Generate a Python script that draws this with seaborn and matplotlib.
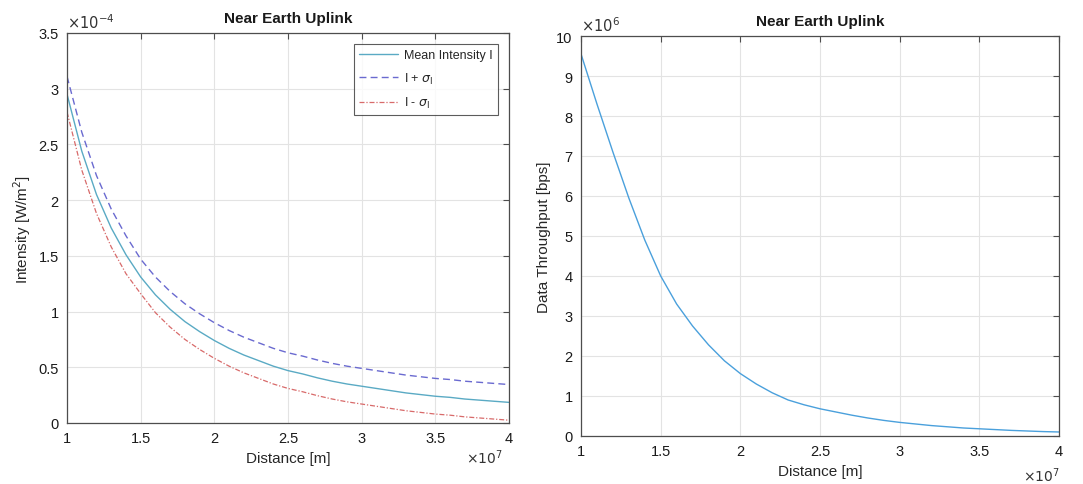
import numpy as np
import pandas as pd
import matplotlib
matplotlib.use("Agg")
import matplotlib.pyplot as plt
import seaborn as sns
from matplotlib.ticker import FuncFormatter, MultipleLocator

# distance samples [m], 1e7 .. 4e7
dist = [1.0e7, 1.1e7, 1.2e7, 1.3e7, 1.4e7, 1.5e7, 1.6e7, 1.7e7, 1.8e7, 1.9e7,
        2.0e7, 2.1e7, 2.2e7, 2.3e7, 2.4e7, 2.5e7, 2.6e7, 2.7e7, 2.8e7, 2.9e7,
        3.0e7, 3.1e7, 3.2e7, 3.3e7, 3.4e7, 3.5e7, 3.6e7, 3.7e7, 3.8e7, 3.9e7,
        4.0e7]
# intensity values, in units of 1e-4 W/m^2
mean_int = [2.95, 2.44, 2.05, 1.75, 1.51, 1.31, 1.15, 1.02, 0.91, 0.82,
            0.74, 0.67, 0.61, 0.56, 0.51, 0.47, 0.44, 0.405, 0.375, 0.35,
            0.33, 0.31, 0.29, 0.27, 0.255, 0.24, 0.23, 0.215, 0.205, 0.195,
            0.185]
upper_int = [3.11, 2.61, 2.22, 1.92, 1.68, 1.47, 1.31, 1.18, 1.07, 0.98,
             0.90, 0.83, 0.77, 0.72, 0.67, 0.63, 0.60, 0.565, 0.535, 0.51,
             0.49, 0.47, 0.45, 0.43, 0.415, 0.40, 0.39, 0.375, 0.365, 0.355,
             0.345]
lower_int = [2.79, 2.27, 1.88, 1.58, 1.34, 1.16, 0.99, 0.86, 0.75, 0.66,
             0.58, 0.51, 0.45, 0.40, 0.35, 0.31, 0.28, 0.245, 0.215, 0.19,
             0.17, 0.15, 0.13, 0.11, 0.095, 0.08, 0.07, 0.055, 0.045, 0.035,
             0.025]
# data throughput, in units of 1e6 bps
throughput = [9.55, 8.3, 7.1, 5.95, 4.9, 4.0, 3.3, 2.75, 2.28, 1.88,
              1.56, 1.3, 1.08, 0.9, 0.78, 0.68, 0.6, 0.52, 0.45, 0.39,
              0.34, 0.3, 0.26, 0.23, 0.2, 0.18, 0.16, 0.14, 0.125, 0.11,
              0.10]

sns.set_style("whitegrid")
plt.rcParams['font.family'] = ['Liberation Sans', 'DejaVu Sans']
plt.rcParams['mathtext.fontset'] = 'dejavusans'

df = pd.DataFrame({'dist': dist,
                   'mean': np.array(mean_int) * 1e-4,
                   'upper': np.array(upper_int) * 1e-4,
                   'lower': np.array(lower_int) * 1e-4,
                   'thr': np.array(throughput) * 1e6})

fig = plt.figure(figsize=(10.83, 4.85), dpi=100)
ax1 = fig.add_axes([0.0619, 0.1258, 0.4081, 0.8041])
ax2 = fig.add_axes([0.5365, 0.099, 0.4413, 0.8247])

edge = '#4d4d4d'
for ax in (ax1, ax2):
    ax.set_facecolor('white')
    ax.grid(True, color='#e3e3e3', linewidth=0.8)
    for s in ax.spines.values():
        s.set_color(edge)
        s.set_linewidth(0.9)
    ax.tick_params(direction='in', top=True, right=True, length=4,
                   color=edge, labelsize=10.5, labelcolor='#1a1a1a', pad=6,
                   width=0.8)
    ax.set_xlim(1e7, 4e7)
    ax.xaxis.set_major_locator(MultipleLocator(0.5e7))
    ax.xaxis.set_major_formatter(FuncFormatter(lambda v, p: f"{v / 1e7:g}"))
    ax.set_xlabel('Distance [m]', fontsize=11, color='#262626')
    ax.set_title('Near Earth Uplink', fontsize=11, fontweight='bold',
                 color='#1a1a1a', pad=8)

# x multipliers, placed like MATLAB does
fig.text(503 / 1083, 1 - 458 / 485, r'$\times 10^{7}$', ha='right', va='center',
         fontsize=10, color='#333333')
fig.text(1060 / 1083, 1 - 476 / 485, r'$\times 10^{7}$', ha='right', va='center',
         fontsize=10, color='#333333')

# left: intensity
sns.lineplot(data=df, x='dist', y='mean', ax=ax1, color='#5aaac4', lw=1.0,
             label='Mean Intensity I')
sns.lineplot(data=df, x='dist', y='upper', ax=ax1, color='#6a6ad0', lw=1.0,
             label=r'I + $\sigma_\mathrm{I}$')
ax1.lines[-1].set_linestyle((0, (5, 3)))
sns.lineplot(data=df, x='dist', y='lower', ax=ax1, color='#d86a6a', lw=0.9,
             label=r'I - $\sigma_\mathrm{I}$')
ax1.lines[-1].set_linestyle((0, (4, 1.5, 1, 1.5)))
ax1.set_ylim(0, 3.5e-4)
ax1.yaxis.set_major_locator(MultipleLocator(0.5e-4))
ax1.yaxis.set_major_formatter(FuncFormatter(lambda v, p: f"{v / 1e-4:g}"))
ax1.set_ylabel(r'Intensity [W/m$^2$]', fontsize=11, color='#262626')
ax1.text(0.0, 1.005, r'$\times 10^{-4}$', transform=ax1.transAxes,
         ha='left', va='bottom', fontsize=10.5, color='#333333')
leg = ax1.legend(loc='upper right', fontsize=9, frameon=True, fancybox=False,
                 edgecolor='#333333', handlelength=3.1, borderaxespad=0.9,
                 labelspacing=0.75, handletextpad=0.5)
leg.get_frame().set_linewidth(0.8)

# right: throughput
sns.lineplot(data=df, x='dist', y='thr', ax=ax2, color='#4aa0dc', lw=1.0)
ax2.set_ylim(0, 10e6)
ax2.yaxis.set_major_locator(MultipleLocator(1e6))
ax2.yaxis.set_major_formatter(FuncFormatter(lambda v, p: f"{v / 1e6:g}"))
ax2.set_ylabel('Data Throughput [bps]', fontsize=11, color='#262626')
ax2.text(0.0, 1.005, r'$\times 10^{6}$', transform=ax2.transAxes,
         ha='left', va='bottom', fontsize=10.5, color='#333333')

fig.savefig('out.png', dpi=100)
